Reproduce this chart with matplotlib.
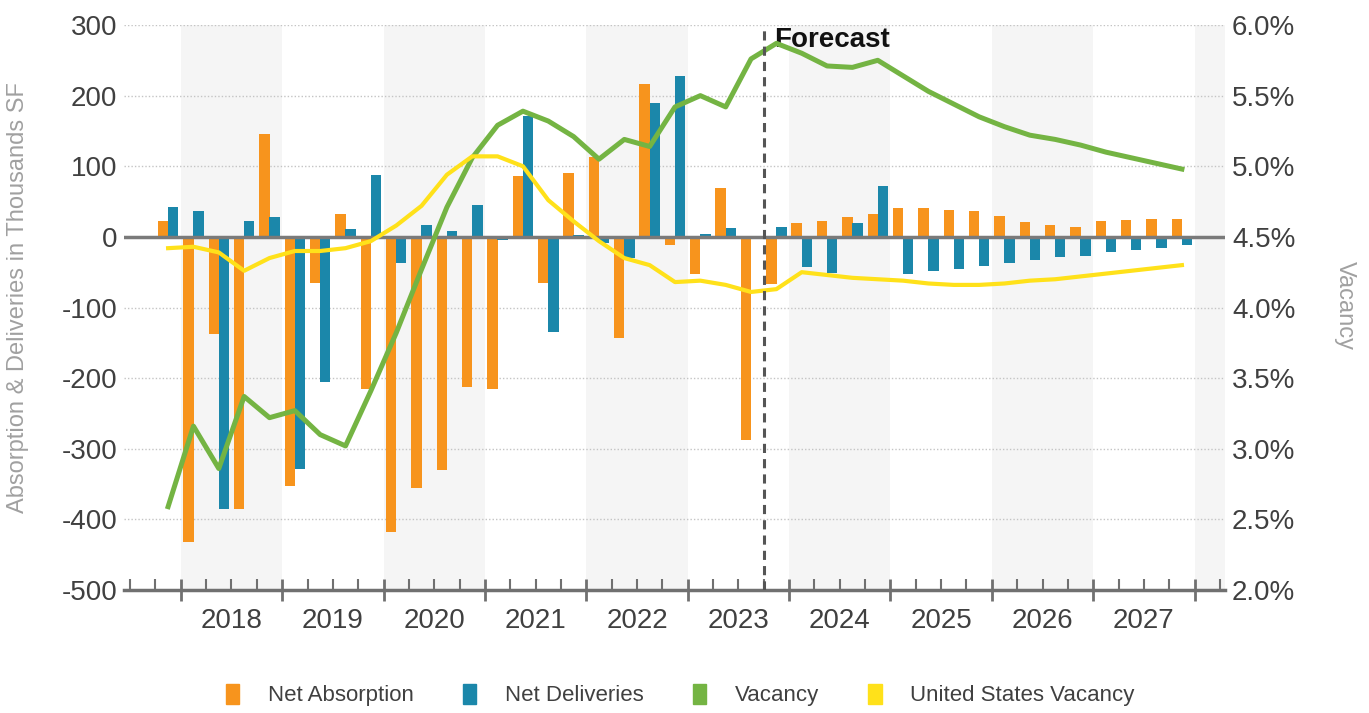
import matplotlib.pyplot as plt
from matplotlib.patches import Patch
import numpy as np

plt.rcParams['font.family'] = ['Liberation Sans', 'DejaVu Sans']
plt.rcParams['axes.unicode_minus'] = False

years = ['2018', '2019', '2020', '2021', '2022', '2023', '2024', '2025', '2026', '2027']

# quarterly, 2017 Q4 .. 2027 Q4 (thousands SF)
net_absorption = [22, -432, -137, -385, 146, -353, -65, 32, -216, -418,
                  -356, -330, -212, -215, 86, -65, 90, 113, -143, 217,
                  -11, -53, 69, -288, -67, 20, 22, 28, 33, 41,
                  41, 38, 37, 29, 21, 17, 14, 22, 24, 26, 26]
net_deliveries = [43, 37, -385, 22, 28, -328, -205, 11, 88, -37,
                  17, 9, 45, -5, 171, -134, 2, -9, -30, 189,
                  228, 4, 12, 0, 14, -43, -51, 19, 72, -52,
                  -49, -46, -41, -37, -33, -29, -27, -22, -19, -16, -12]
# percent
vacancy = [2.59, 3.16, 2.86, 3.37, 3.22, 3.27, 3.10, 3.02, 3.41, 3.82,
           4.27, 4.71, 5.06, 5.29, 5.39, 5.32, 5.21, 5.05, 5.19, 5.14,
           5.42, 5.50, 5.42, 5.76, 5.87, 5.80, 5.71, 5.70, 5.75, 5.64,
           5.53, 5.44, 5.35, 5.28, 5.22, 5.19, 5.15, 5.10, 5.06, 5.02, 4.98]
us_vacancy = [4.42, 4.43, 4.39, 4.26, 4.35, 4.40, 4.40, 4.42, 4.47, 4.58,
              4.72, 4.94, 5.07, 5.07, 5.00, 4.76, 4.61, 4.47, 4.35, 4.30,
              4.18, 4.19, 4.16, 4.11, 4.13, 4.25, 4.23, 4.21, 4.20, 4.19,
              4.17, 4.16, 4.16, 4.17, 4.19, 4.20, 4.22, 4.24, 4.26, 4.28, 4.30]

c_abs = '#F7941D'
c_del = '#1B87AA'
c_vac = '#74B443'
c_us = '#FFE11A'
c_axis = '#707070'
c_text = '#404040'

# slot 0 = 2017 Q3 (empty), data starts in 2017 Q4
x = np.arange(len(net_absorption)) + 1.5
n_slots = 43  # up to 2028 Q1

fig = plt.figure(figsize=(13.69, 7.13), dpi=100)
ax = fig.add_axes([124 / 1369, 1 - 590 / 713, (1225 - 124) / 1369, (590 - 25) / 713])
ax2 = ax.twinx()

# alternating year bands
for start in range(2, n_slots, 8):
    ax.axvspan(start, start + 4, color='#f5f5f5', zorder=0, lw=0)

ax.bar(x - 0.2, net_absorption, width=0.41, color=c_abs, zorder=2)
ax.bar(x + 0.2, net_deliveries, width=0.41, color=c_del, zorder=2)
ax.axhline(0, color='#7a7a7a', lw=2.5, zorder=3)

ax.set_xlim(-0.24, n_slots + 0.2)
ax.set_ylim(-500, 300)
ax.set_yticks(range(-500, 301, 100))
ax.grid(axis='y', color='#c4c4c4', linestyle=(0, (1, 1.5)), lw=1, zorder=1)
ax.set_axisbelow(True)

ax.set_xticks(range(2, n_slots, 4))
ax.set_xticks(range(0, n_slots + 1), minor=True)
ax.set_xticklabels([])
ax.tick_params(axis='x', which='major', direction='inout', length=16, width=2, color=c_axis)
ax.tick_params(axis='x', which='minor', direction='in', length=8, width=1.5, color=c_axis)
ax.tick_params(axis='y', length=0, labelsize=20, labelcolor=c_text, pad=5)

for k, yr in enumerate(years):
    ax.text(4 + 4 * k, -0.055, yr, transform=ax.get_xaxis_transform(),
            ha='center', va='center', fontsize=20, color=c_text)

for s in ['top', 'right', 'left']:
    ax.spines[s].set_visible(False)
ax.spines['bottom'].set_color(c_axis)
ax.spines['bottom'].set_linewidth(2.5)

ax2.plot(x, vacancy, color=c_vac, lw=3.6, zorder=4)
ax2.plot(x, us_vacancy, color=c_us, lw=3.0, zorder=4)
ax2.axvline(25, color='#555555', lw=2.2, ls=(0, (3, 2)), zorder=5)
ax2.set_ylim(2.0, 6.0)
ax2.set_yticks(np.arange(2.0, 6.01, 0.5))
ax2.set_yticklabels([f'{v:.1f}%' for v in np.arange(2.0, 6.01, 0.5)])
ax2.tick_params(axis='y', length=0, labelsize=20, labelcolor=c_text, pad=5)
for s in ax2.spines.values():
    s.set_visible(False)

ax2.text(25.4, 0.997, 'Forecast', transform=ax2.get_xaxis_transform(),
         ha='left', va='top', fontsize=20, fontweight='bold', color='#111111')

fig.text(0.013, 0.582, 'Absorption & Deliveries in Thousands SF', rotation=90,
         ha='center', va='center', fontsize=17, color='#a0a0a0')
fig.text(0.9825, 0.571, 'Vacancy', rotation=270,
         ha='center', va='center', fontsize=17, color='#a0a0a0')

handles = [Patch(color=c_abs), Patch(color=c_del), Patch(color=c_vac), Patch(color=c_us)]
labels = ['Net Absorption', 'Net Deliveries', 'Vacancy', 'United States Vacancy']
fig.legend(handles, labels, loc='center', bbox_to_anchor=(0.497, 0.025), ncol=4,
           frameon=False, fontsize=16, handlelength=0.6, handleheight=1.0,
           handletextpad=1.3, columnspacing=2.2, labelcolor=c_text)

fig.savefig('out.png', dpi=100)
